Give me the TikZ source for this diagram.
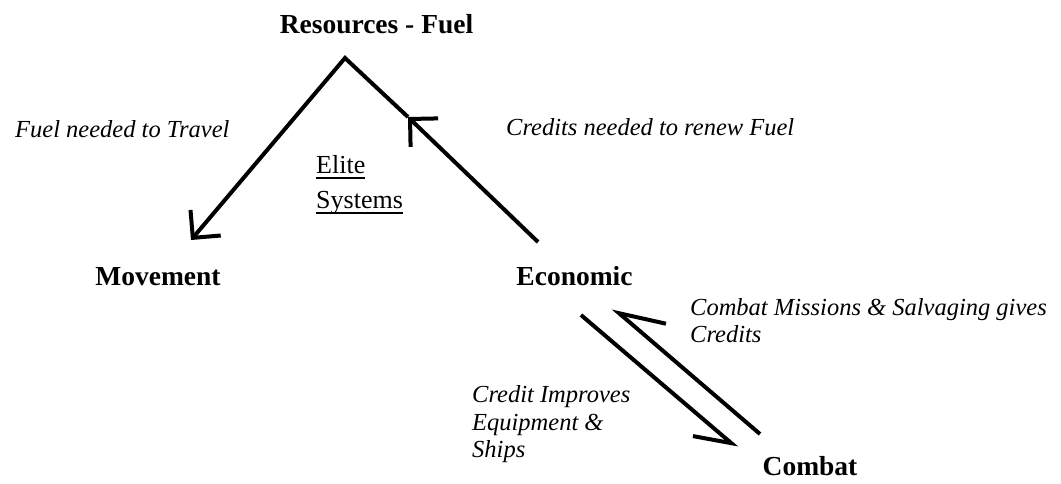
\documentclass[tikz,border=0pt]{standalone}
\usepackage{fontspec}
\setmainfont{Liberation Serif}
\usetikzlibrary{arrows.meta}
\begin{document}
\begin{tikzpicture}[x=1pt,y=-1pt,
  lbl/.style={font=\fontsize{27.5}{30}\selectfont\bfseries, inner sep=0pt, anchor=base},
  note/.style={font=\fontsize{24.5}{27}\selectfont\itshape, inner sep=0pt, anchor=base west},
  elite/.style={font=\fontsize{26}{28}\selectfont, inner sep=0pt, anchor=base west},
  link/.style={line width=4pt, draw=black, line join=miter},
  fullhead/.style={-{Straight Barb[angle=90:28pt]}},
  halfheadA/.style={-{Straight Barb[angle=60:39pt, harpoon, swap]}},
  halfheadB/.style={-{Straight Barb[angle=56:48pt, harpoon, swap]}},
  uline/.style={line width=1.4pt}
]
\useasboundingbox (0,0) rectangle (1061,483);

% labels
\node[lbl] (res) at (376.5,33) {Resources - Fuel};
\node[lbl] (mov) at (158,285) {Movement};
\node[lbl] (eco) at (574.5,285) {Economic};
\node[lbl] (com) at (810,475) {Combat};

\node[note] (n1) at (15,137) {Fuel needed to Travel};
\node[note] (n2) at (506,135) {Credits needed to renew Fuel};
\node[note] (n3) at (690,315) {Combat Missions \& Salvaging gives};
\node[note] (n3b) at (690,342) {Credits};
\node[note] (n4) at (472,402) {Credit Improves};
\node[note] (n4b) at (472,430) {Equipment \&};
\node[note] (n4c) at (472,457) {Ships};

\node[elite] (el1) at (316,173) {Elite};
\node[elite] (el2) at (316,208) {Systems};
\draw[uline] ([yshift=-5pt]el1.base west) -- ([yshift=-5pt]el1.base east);
\draw[uline] ([yshift=-5pt]el2.base west) -- ([yshift=-5pt]el2.base east);

% connector points
\coordinate (apex) at (345,58);
\coordinate (mvtip) at (191,240);
\coordinate (ebot) at (538,242);
\coordinate (midtip) at (408,117);
\coordinate (astart) at (581,315);
\coordinate (atip) at (737,448);
\coordinate (bstart) at (760,434);
\coordinate (btip) at (613,308);

% connectors
\draw[link, fullhead] (ebot) -- (midtip);
\draw[link, fullhead] (midtip) -- (apex) -- (mvtip);
\draw[link, halfheadA] (astart) -- (atip);
\draw[link, halfheadB] (bstart) -- (btip);
\end{tikzpicture}
\end{document}
